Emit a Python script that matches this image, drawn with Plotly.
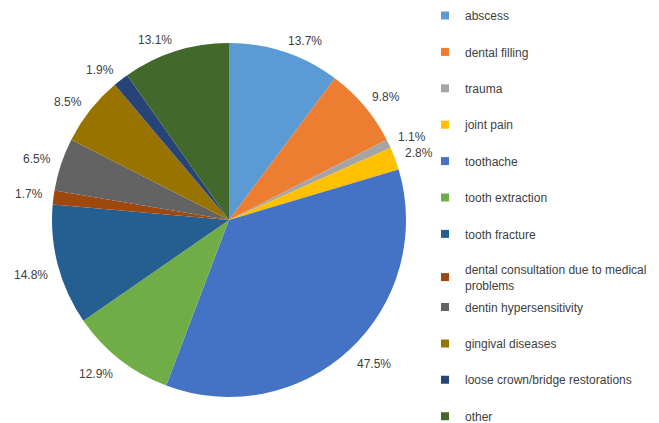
import math
import plotly.graph_objects as go

categories = [
    "abscess", "dental filling", "trauma", "joint pain", "toothache",
    "tooth extraction", "tooth fracture",
    "dental consultation due to medical<br>problems",
    "dentin hypersensitivity", "gingival diseases",
    "loose crown/bridge restorations", "other",
]
percent_values = [13.7, 9.8, 1.1, 2.8, 47.5, 12.9, 14.8, 1.7, 6.5, 8.5, 1.9, 13.1]
colors = [
    "#5B9BD5", "#ED7D31", "#A5A5A5", "#FFC000", "#4472C4", "#70AD47",
    "#255E91", "#9E480E", "#636363", "#997300", "#264478", "#43682B",
]

W, H = 659, 423
cx, cy, r = 229, 220, 177          # pie centre and radius in pixels
corner_dist = 187                  # distance from the centre to the label's nearest corner
FONT = "Liberation Sans, Arial, sans-serif"
TEXT = "#404040"

fig = go.Figure()
fig.add_trace(go.Pie(
    labels=categories,
    values=percent_values,
    textinfo="none",
    sort=False,
    direction="clockwise",
    rotation=0,
    marker=dict(colors=colors, line=dict(width=0)),
    showlegend=False,
    hovertext=[f"{v:.1f}%" for v in percent_values],
    hoverinfo="label+text",
    domain=dict(x=[(cx - r) / W, (cx + r) / W], y=[1 - (cy + r) / H, 1 - (cy - r) / H]),
))

# value labels outside each slice: the corner of the label that faces the pie
# sits on the slice's mid-angle ray
total = sum(percent_values)
cum = 0.0
annotations = []
for v in percent_values:
    mid = (cum + v / 2) / total * 2 * math.pi
    cum += v
    s, c = math.sin(mid), math.cos(mid)
    sx = 1 if s > 0 else -1
    sy = 1 if c > 0 else -1
    corner_x = cx + corner_dist * s
    corner_y = cy - corner_dist * c
    annotations.append(dict(
        x=(corner_x - 1.5 * sx) / W, y=1 - (corner_y - 4.5 * sy + 2.5) / H,
        xref="paper", yref="paper",
        text=f"{v:.1f}%", showarrow=False,
        xanchor="left" if sx > 0 else "right", yanchor="middle",
        font=dict(family=FONT, size=12, color=TEXT),
    ))

# legend entries: three legend blocks so the two-line entry keeps the even rhythm
legend_of = ["legend"] * 7 + ["legend2"] + ["legend3"] * 4
for name, col, lg in zip(categories, colors, legend_of):
    fig.add_trace(go.Scatter(
        x=[None], y=[None], mode="markers", name=name, legendgroup=name,
        legend=lg, marker=dict(symbol="square", size=8, color=col),
        hoverinfo="skip",
    ))

legend_common = dict(
    x=425 / W, xanchor="left",
    traceorder="grouped", tracegroupgap=17.4,
    font=dict(family=FONT, size=12, color=TEXT),
    bgcolor="rgba(0,0,0,0)",
)

fig.update_layout(
    width=W, height=H,
    margin=dict(l=0, r=0, t=0, b=0, autoexpand=False),
    paper_bgcolor="white", plot_bgcolor="white",
    xaxis=dict(visible=False), yaxis=dict(visible=False),
    font=dict(family=FONT, size=12, color=TEXT),
    annotations=annotations,
    legend=dict(legend_common, y=1 - 1 / H, yanchor="top"),
    legend2=dict(legend_common, y=1 - 277.5 / H, yanchor="middle"),
    legend3=dict(legend_common, y=1 - 292.5 / H, yanchor="top"),
)

fig.write_html("out.html")
